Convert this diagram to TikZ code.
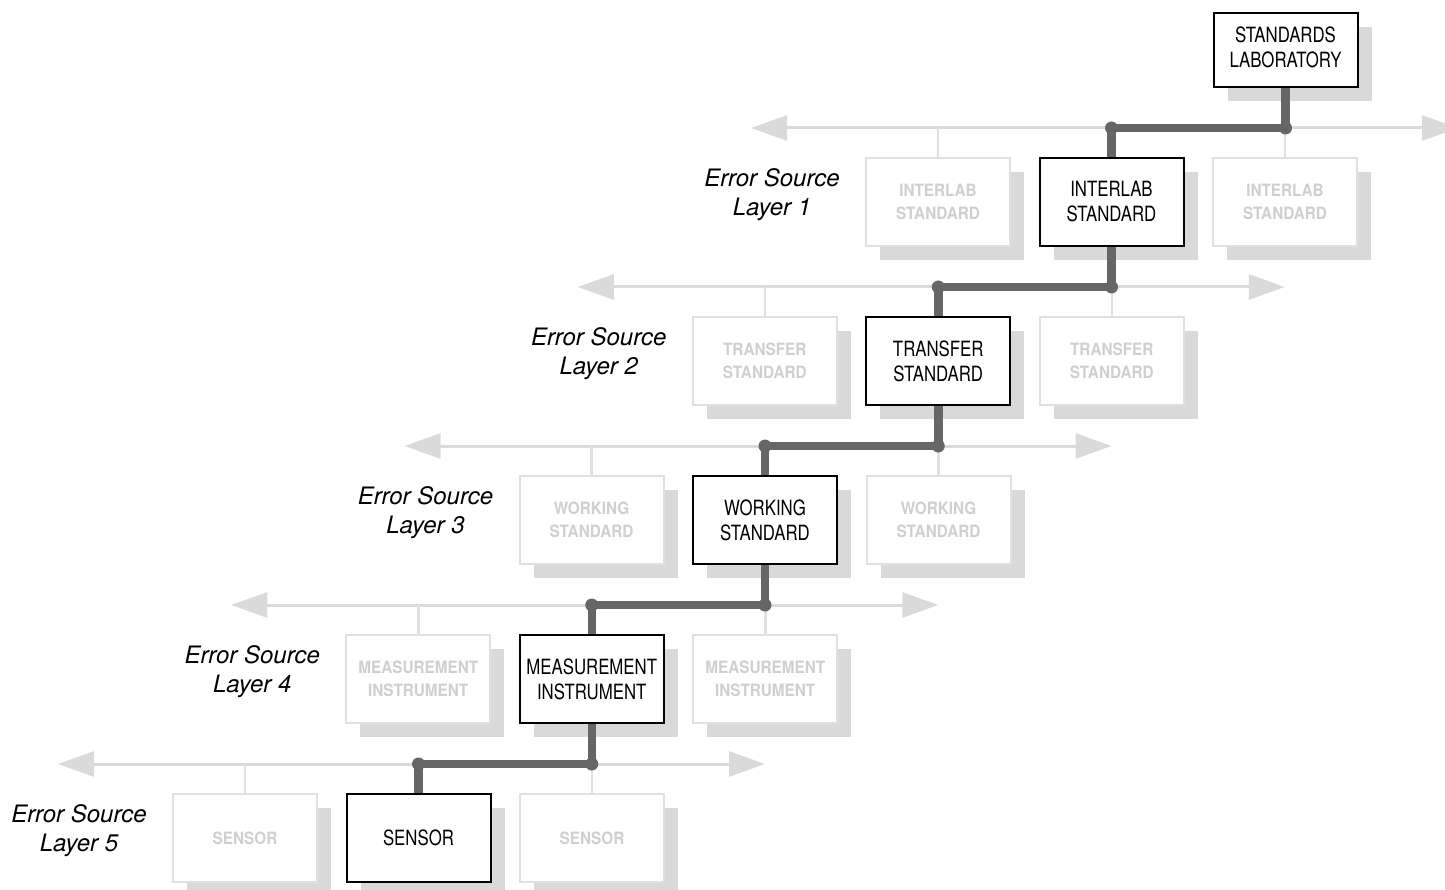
\documentclass[tikz,border=0pt]{standalone}
\usepackage{fontspec}
\setmainfont{TeX Gyre Heros}
\newfontfamily\boxfont{TeX Gyre Heros}[FakeStretch=0.8]
\newfontfamily\dimfont{TeX Gyre Heros}[FakeStretch=0.9]
\usetikzlibrary{arrows.meta,shadows}
\definecolor{busgray}{HTML}{DADADA}
\definecolor{shadowgray}{HTML}{D9D9D9}
\definecolor{dimborder}{HTML}{E0E0E0}
\definecolor{dimtext}{HTML}{CFCFCF}
\definecolor{trunkgray}{HTML}{666666}
\tikzset{
  boxshadow/.style={general shadow={fill=shadowgray, draw=none, shadow xshift=14pt, shadow yshift=-14pt}},
  activebox/.style={draw=black, line width=2pt, fill=white, boxshadow,
    minimum width=144pt, minimum height=88pt, inner sep=0pt, align=center,
    font=\boxfont\fontsize{21}{25}\selectfont},
  labbox/.style={activebox, minimum height=74pt},
  dimbox/.style={draw=dimborder, line width=2pt, fill=white, boxshadow, text=dimtext,
    minimum width=144pt, minimum height=88pt, inner sep=0pt, align=center,
    font=\dimfont\bfseries\fontsize{17}{23}\selectfont},
  layerlabel/.style={align=center, inner sep=0pt, font=\itshape\fontsize{24}{29}\selectfont},
  bus/.style={draw=busgray, line width=3pt,
    {Triangle[length=36pt,width=25pt]}-{Triangle[length=36pt,width=25pt]}},
  branch/.style={draw=dimborder, line width=2.5pt},
  trunk/.style={draw=trunkgray, line width=8.5pt, line join=round},
  trunkdot/.style={fill=trunkgray}
}
\begin{document}
\begin{tikzpicture}[x=1pt,y=-1pt]
\useasboundingbox (0,0) rectangle (1445,890);
\clip (0,0) rectangle (1445,890);

% top of the chain
\node[labbox] (lab) at (1285.5,50)
  {\raisebox{2.5pt}{\begin{tabular}{@{}c@{}}STANDARDS\\LABORATORY\end{tabular}}};

% one row per error-source layer: bus, three boxes, layer caption
\foreach \i/\txt in {1/{INTERLAB\\STANDARD}, 2/{TRANSFER\\STANDARD},
                     3/{WORKING\\STANDARD}, 4/{MEASUREMENT\\INSTRUMENT}, 5/{SENSOR}} {
  \pgfmathsetmacro{\yr}{202+159*(\i-1)}
  \pgfmathsetmacro{\xl}{938-173.25*(\i-1)}
  \pgfmathsetmacro{\xm}{\xl+173.5}
  \pgfmathsetmacro{\xr}{\xl+347}
  \pgfmathsetmacro{\yb}{\yr-74}
  \coordinate (bus\i) at (\xm,\yb);
  \coordinate (busL\i) at (\xl-187,\yb);
  \coordinate (busR\i) at (\xr+173,\yb);
  \draw[bus] (busL\i) -- (busR\i);
  \node[dimbox] (l\i) at (\xl,\yr) {\txt};
  \node[activebox] (m\i) at (\xm,\yr) {\txt};
  \node[dimbox] (r\i) at (\xr,\yr) {\txt};
  \draw[branch] (l\i.north) -- (l\i.north |- bus\i);
  \draw[branch] (r\i.north) -- (r\i.north |- bus\i);
  \node[layerlabel] (e\i) at (\xl-166,\yr-7) {Error Source\\Layer \i};
}

% traceability path through the active boxes
\foreach \p/\c in {lab/1, m1/2, m2/3, m3/4, m4/5} {
  \draw[trunk] (\p.south) -- (\p.south |- bus\c) -- (m\c.north |- bus\c) -- (m\c.north);
  \fill[trunkdot] (\p.south |- bus\c) circle (6.5pt) (m\c.north |- bus\c) circle (6.5pt);
}
\end{tikzpicture}
\end{document}
